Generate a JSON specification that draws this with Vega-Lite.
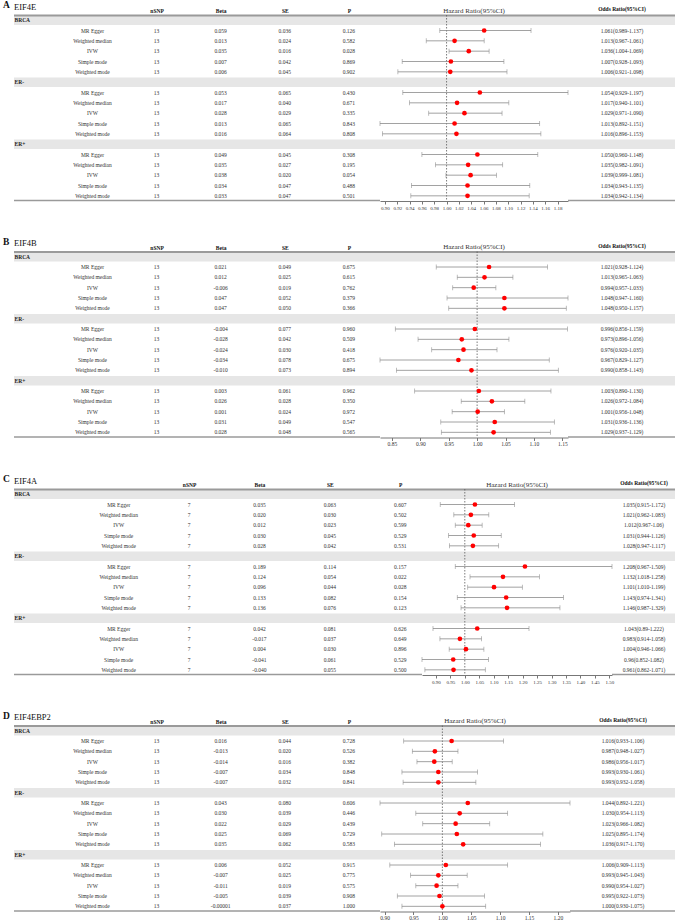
{
  "$schema": "https://vega.github.io/schema/vega-lite/v6.json",
  "background": "white",
  "padding": {"left": 3, "right": 0, "top": 0, "bottom": 0},
  "config": {"view": {"stroke": null}, "font": "Liberation Serif"},
  "spacing": 26.5,
  "datasets": {
    "groups": [
      {"key": "BRCA", "Group": "BRCA"},
      {"key": "ER-", "Group": "ER-"},
      {"key": "ER+", "Group": "ER+"}
    ],
    "eif4e": [
      {"key": "BRCA:MR Egger", "Method": "MR Egger", "nSNP": "13", "Beta": "0.059", "SE": "0.036", "P": "0.126", "OR": 1.061, "lo": 0.989, "hi": 1.137, "CI": "1.061(0.989-1.137)"},
      {"key": "BRCA:Weighted median", "Method": "Weighted median", "nSNP": "13", "Beta": "0.013", "SE": "0.024", "P": "0.582", "OR": 1.013, "lo": 0.967, "hi": 1.061, "CI": "1.013(0.967-1.061)"},
      {"key": "BRCA:IVW", "Method": "IVW", "nSNP": "13", "Beta": "0.035", "SE": "0.016", "P": "0.028", "OR": 1.036, "lo": 1.004, "hi": 1.069, "CI": "1.036(1.004-1.069)"},
      {"key": "BRCA:Simple mode", "Method": "Simple mode", "nSNP": "13", "Beta": "0.007", "SE": "0.042", "P": "0.869", "OR": 1.007, "lo": 0.928, "hi": 1.093, "CI": "1.007(0.928-1.093)"},
      {"key": "BRCA:Weighted mode", "Method": "Weighted mode", "nSNP": "13", "Beta": "0.006", "SE": "0.045", "P": "0.902", "OR": 1.006, "lo": 0.921, "hi": 1.098, "CI": "1.006(0.921-1.098)"},
      {"key": "ER-:MR Egger", "Method": "MR Egger", "nSNP": "13", "Beta": "0.053", "SE": "0.065", "P": "0.430", "OR": 1.054, "lo": 0.929, "hi": 1.197, "CI": "1.054(0.929-1.197)"},
      {"key": "ER-:Weighted median", "Method": "Weighted median", "nSNP": "13", "Beta": "0.017", "SE": "0.040", "P": "0.671", "OR": 1.017, "lo": 0.940, "hi": 1.101, "CI": "1.017(0.940-1.101)"},
      {"key": "ER-:IVW", "Method": "IVW", "nSNP": "13", "Beta": "0.028", "SE": "0.029", "P": "0.335", "OR": 1.029, "lo": 0.971, "hi": 1.090, "CI": "1.029(0.971-1.090)"},
      {"key": "ER-:Simple mode", "Method": "Simple mode", "nSNP": "13", "Beta": "0.013", "SE": "0.065", "P": "0.843", "OR": 1.013, "lo": 0.892, "hi": 1.151, "CI": "1.013(0.892-1.151)"},
      {"key": "ER-:Weighted mode", "Method": "Weighted mode", "nSNP": "13", "Beta": "0.016", "SE": "0.064", "P": "0.808", "OR": 1.016, "lo": 0.896, "hi": 1.153, "CI": "1.016(0.896-1.153)"},
      {"key": "ER+:MR Egger", "Method": "MR Egger", "nSNP": "13", "Beta": "0.049", "SE": "0.045", "P": "0.308", "OR": 1.050, "lo": 0.960, "hi": 1.148, "CI": "1.050(0.960-1.148)"},
      {"key": "ER+:Weighted median", "Method": "Weighted median", "nSNP": "13", "Beta": "0.035", "SE": "0.027", "P": "0.195", "OR": 1.035, "lo": 0.982, "hi": 1.091, "CI": "1.035(0.982-1.091)"},
      {"key": "ER+:IVW", "Method": "IVW", "nSNP": "13", "Beta": "0.038", "SE": "0.020", "P": "0.054", "OR": 1.039, "lo": 0.999, "hi": 1.081, "CI": "1.039(0.999-1.081)"},
      {"key": "ER+:Simple mode", "Method": "Simple mode", "nSNP": "13", "Beta": "0.034", "SE": "0.047", "P": "0.488", "OR": 1.034, "lo": 0.943, "hi": 1.135, "CI": "1.034(0.943-1.135)"},
      {"key": "ER+:Weighted mode", "Method": "Weighted mode", "nSNP": "13", "Beta": "0.033", "SE": "0.047", "P": "0.501", "OR": 1.034, "lo": 0.942, "hi": 1.134, "CI": "1.034(0.942-1.134)"}
    ],
    "eif4b": [
      {"key": "BRCA:MR Egger", "Method": "MR Egger", "nSNP": "13", "Beta": "0.021", "SE": "0.049", "P": "0.675", "OR": 1.021, "lo": 0.928, "hi": 1.124, "CI": "1.021(0.928-1.124)"},
      {"key": "BRCA:Weighted median", "Method": "Weighted median", "nSNP": "13", "Beta": "0.012", "SE": "0.025", "P": "0.615", "OR": 1.013, "lo": 0.965, "hi": 1.063, "CI": "1.013(0.965-1.063)"},
      {"key": "BRCA:IVW", "Method": "IVW", "nSNP": "13", "Beta": "-0.006", "SE": "0.019", "P": "0.762", "OR": 0.994, "lo": 0.957, "hi": 1.033, "CI": "0.994(0.957-1.033)"},
      {"key": "BRCA:Simple mode", "Method": "Simple mode", "nSNP": "13", "Beta": "0.047", "SE": "0.052", "P": "0.379", "OR": 1.048, "lo": 0.947, "hi": 1.160, "CI": "1.048(0.947-1.160)"},
      {"key": "BRCA:Weighted mode", "Method": "Weighted mode", "nSNP": "13", "Beta": "0.047", "SE": "0.050", "P": "0.366", "OR": 1.048, "lo": 0.950, "hi": 1.157, "CI": "1.048(0.950-1.157)"},
      {"key": "ER-:MR Egger", "Method": "MR Egger", "nSNP": "13", "Beta": "-0.004", "SE": "0.077", "P": "0.960", "OR": 0.996, "lo": 0.856, "hi": 1.159, "CI": "0.996(0.856-1.159)"},
      {"key": "ER-:Weighted median", "Method": "Weighted median", "nSNP": "13", "Beta": "-0.028", "SE": "0.042", "P": "0.509", "OR": 0.973, "lo": 0.896, "hi": 1.056, "CI": "0.973(0.896-1.056)"},
      {"key": "ER-:IVW", "Method": "IVW", "nSNP": "13", "Beta": "-0.024", "SE": "0.030", "P": "0.418", "OR": 0.976, "lo": 0.920, "hi": 1.035, "CI": "0.976(0.920-1.035)"},
      {"key": "ER-:Simple mode", "Method": "Simple mode", "nSNP": "13", "Beta": "-0.034", "SE": "0.078", "P": "0.675", "OR": 0.967, "lo": 0.829, "hi": 1.127, "CI": "0.967(0.829-1.127)"},
      {"key": "ER-:Weighted mode", "Method": "Weighted mode", "nSNP": "13", "Beta": "-0.010", "SE": "0.073", "P": "0.894", "OR": 0.990, "lo": 0.858, "hi": 1.143, "CI": "0.990(0.858-1.143)"},
      {"key": "ER+:MR Egger", "Method": "MR Egger", "nSNP": "13", "Beta": "0.003", "SE": "0.061", "P": "0.962", "OR": 1.003, "lo": 0.890, "hi": 1.130, "CI": "1.003(0.890-1.130)"},
      {"key": "ER+:Weighted median", "Method": "Weighted median", "nSNP": "13", "Beta": "0.026", "SE": "0.028", "P": "0.350", "OR": 1.026, "lo": 0.972, "hi": 1.084, "CI": "1.026(0.972-1.084)"},
      {"key": "ER+:IVW", "Method": "IVW", "nSNP": "13", "Beta": "0.001", "SE": "0.024", "P": "0.972", "OR": 1.001, "lo": 0.956, "hi": 1.048, "CI": "1.001(0.956-1.048)"},
      {"key": "ER+:Simple mode", "Method": "Simple mode", "nSNP": "13", "Beta": "0.031", "SE": "0.049", "P": "0.547", "OR": 1.031, "lo": 0.936, "hi": 1.136, "CI": "1.031(0.936-1.136)"},
      {"key": "ER+:Weighted mode", "Method": "Weighted mode", "nSNP": "13", "Beta": "0.028", "SE": "0.048", "P": "0.565", "OR": 1.029, "lo": 0.937, "hi": 1.129, "CI": "1.029(0.937-1.129)"}
    ],
    "eif4a": [
      {"key": "BRCA:MR Egger", "Method": "MR Egger", "nSNP": "7", "Beta": "0.035", "SE": "0.063", "P": "0.607", "OR": 1.035, "lo": 0.915, "hi": 1.172, "CI": "1.035(0.915-1.172)"},
      {"key": "BRCA:Weighted median", "Method": "Weighted median", "nSNP": "7", "Beta": "0.020", "SE": "0.030", "P": "0.502", "OR": 1.021, "lo": 0.962, "hi": 1.083, "CI": "1.021(0.962-1.083)"},
      {"key": "BRCA:IVW", "Method": "IVW", "nSNP": "7", "Beta": "0.012", "SE": "0.023", "P": "0.599", "OR": 1.012, "lo": 0.967, "hi": 1.06, "CI": "1.012(0.967-1.06)"},
      {"key": "BRCA:Simple mode", "Method": "Simple mode", "nSNP": "7", "Beta": "0.030", "SE": "0.045", "P": "0.529", "OR": 1.031, "lo": 0.944, "hi": 1.126, "CI": "1.031(0.944-1.126)"},
      {"key": "BRCA:Weighted mode", "Method": "Weighted mode", "nSNP": "7", "Beta": "0.028", "SE": "0.042", "P": "0.531", "OR": 1.028, "lo": 0.947, "hi": 1.117, "CI": "1.028(0.947-1.117)"},
      {"key": "ER-:MR Egger", "Method": "MR Egger", "nSNP": "7", "Beta": "0.189", "SE": "0.114", "P": "0.157", "OR": 1.208, "lo": 0.967, "hi": 1.509, "CI": "1.208(0.967-1.509)"},
      {"key": "ER-:Weighted median", "Method": "Weighted median", "nSNP": "7", "Beta": "0.124", "SE": "0.054", "P": "0.022", "OR": 1.132, "lo": 1.018, "hi": 1.258, "CI": "1.132(1.018-1.258)"},
      {"key": "ER-:IVW", "Method": "IVW", "nSNP": "7", "Beta": "0.096", "SE": "0.044", "P": "0.028", "OR": 1.101, "lo": 1.010, "hi": 1.199, "CI": "1.101(1.010-1.199)"},
      {"key": "ER-:Simple mode", "Method": "Simple mode", "nSNP": "7", "Beta": "0.133", "SE": "0.082", "P": "0.154", "OR": 1.143, "lo": 0.974, "hi": 1.341, "CI": "1.143(0.974-1.341)"},
      {"key": "ER-:Weighted mode", "Method": "Weighted mode", "nSNP": "7", "Beta": "0.136", "SE": "0.076", "P": "0.123", "OR": 1.146, "lo": 0.987, "hi": 1.329, "CI": "1.146(0.987-1.329)"},
      {"key": "ER+:MR Egger", "Method": "MR Egger", "nSNP": "7", "Beta": "0.042", "SE": "0.081", "P": "0.626", "OR": 1.043, "lo": 0.89, "hi": 1.222, "CI": "1.043(0.89-1.222)"},
      {"key": "ER+:Weighted median", "Method": "Weighted median", "nSNP": "7", "Beta": "-0.017", "SE": "0.037", "P": "0.649", "OR": 0.983, "lo": 0.914, "hi": 1.058, "CI": "0.983(0.914-1.058)"},
      {"key": "ER+:IVW", "Method": "IVW", "nSNP": "7", "Beta": "0.004", "SE": "0.030", "P": "0.896", "OR": 1.004, "lo": 0.946, "hi": 1.066, "CI": "1.004(0.946-1.066)"},
      {"key": "ER+:Simple mode", "Method": "Simple mode", "nSNP": "7", "Beta": "-0.041", "SE": "0.061", "P": "0.529", "OR": 0.96, "lo": 0.852, "hi": 1.082, "CI": "0.96(0.852-1.082)"},
      {"key": "ER+:Weighted mode", "Method": "Weighted mode", "nSNP": "7", "Beta": "-0.040", "SE": "0.055", "P": "0.500", "OR": 0.961, "lo": 0.862, "hi": 1.071, "CI": "0.961(0.862-1.071)"}
    ],
    "eif4ebp2": [
      {"key": "BRCA:MR Egger", "Method": "MR Egger", "nSNP": "13", "Beta": "0.016", "SE": "0.044", "P": "0.728", "OR": 1.016, "lo": 0.933, "hi": 1.106, "CI": "1.016(0.933-1.106)"},
      {"key": "BRCA:Weighted median", "Method": "Weighted median", "nSNP": "13", "Beta": "-0.013", "SE": "0.020", "P": "0.526", "OR": 0.987, "lo": 0.948, "hi": 1.027, "CI": "0.987(0.948-1.027)"},
      {"key": "BRCA:IVW", "Method": "IVW", "nSNP": "13", "Beta": "-0.014", "SE": "0.016", "P": "0.382", "OR": 0.986, "lo": 0.956, "hi": 1.017, "CI": "0.986(0.956-1.017)"},
      {"key": "BRCA:Simple mode", "Method": "Simple mode", "nSNP": "13", "Beta": "-0.007", "SE": "0.034", "P": "0.848", "OR": 0.993, "lo": 0.930, "hi": 1.061, "CI": "0.993(0.930-1.061)"},
      {"key": "BRCA:Weighted mode", "Method": "Weighted mode", "nSNP": "13", "Beta": "-0.007", "SE": "0.032", "P": "0.841", "OR": 0.993, "lo": 0.932, "hi": 1.058, "CI": "0.993(0.932-1.058)"},
      {"key": "ER-:MR Egger", "Method": "MR Egger", "nSNP": "13", "Beta": "0.043", "SE": "0.080", "P": "0.606", "OR": 1.044, "lo": 0.892, "hi": 1.221, "CI": "1.044(0.892-1.221)"},
      {"key": "ER-:Weighted median", "Method": "Weighted median", "nSNP": "13", "Beta": "0.030", "SE": "0.039", "P": "0.446", "OR": 1.030, "lo": 0.954, "hi": 1.113, "CI": "1.030(0.954-1.113)"},
      {"key": "ER-:IVW", "Method": "IVW", "nSNP": "13", "Beta": "0.022", "SE": "0.029", "P": "0.439", "OR": 1.023, "lo": 0.966, "hi": 1.082, "CI": "1.023(0.966-1.082)"},
      {"key": "ER-:Simple mode", "Method": "Simple mode", "nSNP": "13", "Beta": "0.025", "SE": "0.069", "P": "0.729", "OR": 1.025, "lo": 0.895, "hi": 1.174, "CI": "1.025(0.895-1.174)"},
      {"key": "ER-:Weighted mode", "Method": "Weighted mode", "nSNP": "13", "Beta": "0.035", "SE": "0.062", "P": "0.583", "OR": 1.036, "lo": 0.917, "hi": 1.170, "CI": "1.036(0.917-1.170)"},
      {"key": "ER+:MR Egger", "Method": "MR Egger", "nSNP": "13", "Beta": "0.006", "SE": "0.052", "P": "0.915", "OR": 1.006, "lo": 0.909, "hi": 1.113, "CI": "1.006(0.909-1.113)"},
      {"key": "ER+:Weighted median", "Method": "Weighted median", "nSNP": "13", "Beta": "-0.007", "SE": "0.025", "P": "0.775", "OR": 0.993, "lo": 0.945, "hi": 1.043, "CI": "0.993(0.945-1.043)"},
      {"key": "ER+:IVW", "Method": "IVW", "nSNP": "13", "Beta": "-0.011", "SE": "0.019", "P": "0.575", "OR": 0.990, "lo": 0.954, "hi": 1.027, "CI": "0.990(0.954-1.027)"},
      {"key": "ER+:Simple mode", "Method": "Simple mode", "nSNP": "13", "Beta": "-0.005", "SE": "0.039", "P": "0.908", "OR": 0.995, "lo": 0.922, "hi": 1.073, "CI": "0.995(0.922-1.073)"},
      {"key": "ER+:Weighted mode", "Method": "Weighted mode", "nSNP": "13", "Beta": "-0.00001", "SE": "0.037", "P": "1.000", "OR": 1.000, "lo": 0.930, "hi": 1.075, "CI": "1.000(0.930-1.075)"}
    ]
  },
  "vconcat": [
    {
      "title": {"text": "A", "anchor": "start", "dx": -10, "dy": 7, "fontSize": 9.5, "fontWeight": "bold", "font": "Liberation Serif", "color": "#111", "offset": 0},
      "spacing": 0,
      "bounds": "flush",
      "hconcat": [
        {
          "width": 366, "height": 186,
          "title": {"text": "EIF4E", "anchor": "start", "frame": "group", "fontSize": 8.5, "fontWeight": "normal", "font": "Liberation Serif", "color": "#111", "offset": -2.5},
          "layer": [
            {"data": {"name": "groups"}, "mark": {"type": "rect", "color": "#e6e6e6"}, "encoding": {"y": {"field": "key", "type": "nominal", "scale": {"type": "band", "paddingInner": 0.08, "paddingOuter": 0.04, "domain": ["BRCA","BRCA:MR Egger","BRCA:Weighted median","BRCA:IVW","BRCA:Simple mode","BRCA:Weighted mode","ER-","ER-:MR Egger","ER-:Weighted median","ER-:IVW","ER-:Simple mode","ER-:Weighted mode","ER+","ER+:MR Egger","ER+:Weighted median","ER+:IVW","ER+:Simple mode","ER+:Weighted mode"]}, "axis": {"orient": "left", "title": null, "domain": false, "ticks": false, "tickSize": 0, "grid": false, "labelPadding": 0, "labelAlign": "left", "labelBaseline": "middle", "labelFontSize": 5.5, "labelFont": "Liberation Serif", "labelFontWeight": "bold", "labelColor": "#222", "labelOverlap": false, "labelBound": false, "labelFlush": false, "zindex": 2, "labelExpr": "indexof(datum.value, ':') < 0 ? datum.value : ''"}}}},
            {"data": {"name": "groups"}, "transform": [{"filter": "datum.key == 'BRCA'"}], "mark": {"type": "rule", "color": "#9a9a9a", "strokeWidth": 2}, "encoding": {"y": {"field": "key", "type": "nominal", "bandPosition": 0, "axis": {"orient": "left", "title": null, "domain": false, "ticks": false, "tickSize": 0, "grid": false, "labelPadding": 0, "labelAlign": "left", "labelBaseline": "middle", "labelFontSize": 5.5, "labelFont": "Liberation Serif", "labelFontWeight": "bold", "labelColor": "#222", "labelOverlap": false, "labelBound": false, "labelFlush": false, "zindex": 2, "labelExpr": "indexof(datum.value, ':') < 0 ? datum.value : ''"}}}},
            {"data": {"name": "eif4e"}, "transform": [{"filter": "datum.key == 'ER+:Weighted mode'"}], "mark": {"type": "rule", "color": "#9a9a9a", "strokeWidth": 1.5}, "encoding": {"y": {"field": "key", "type": "nominal", "bandPosition": 1, "axis": {"orient": "left", "title": null, "domain": false, "ticks": false, "tickSize": 0, "grid": false, "labelPadding": 0, "labelAlign": "left", "labelBaseline": "middle", "labelFontSize": 5.5, "labelFont": "Liberation Serif", "labelFontWeight": "bold", "labelColor": "#222", "labelOverlap": false, "labelBound": false, "labelFlush": false, "zindex": 2, "labelExpr": "indexof(datum.value, ':') < 0 ? datum.value : ''"}}}},
            {"data": {"name": "eif4e"}, "transform": [{"fold": ["Method", "nSNP", "Beta", "SE", "P"], "as": ["col", "val"]}], "mark": {"type": "text", "fontSize": 5.5, "font": "Liberation Serif", "color": "#333"}, "encoding": {"y": {"field": "key", "type": "nominal", "axis": {"orient": "left", "title": null, "domain": false, "ticks": false, "tickSize": 0, "grid": false, "labelPadding": 0, "labelAlign": "left", "labelBaseline": "middle", "labelFontSize": 5.5, "labelFont": "Liberation Serif", "labelFontWeight": "bold", "labelColor": "#222", "labelOverlap": false, "labelBound": false, "labelFlush": false, "zindex": 2, "labelExpr": "indexof(datum.value, ':') < 0 ? datum.value : ''"}}, "x": {"field": "col", "type": "nominal", "scale": {"type": "point", "domain": ["Method", "nSNP", "Beta", "SE", "P"], "padding": 0.855, "align": 0.716}, "axis": {"orient": "top", "title": null, "domain": false, "ticks": false, "tickSize": 0, "grid": false, "labelPadding": 1.5, "labelAngle": 0, "labelFontSize": 5.5, "labelFont": "Liberation Serif", "labelFontWeight": "bold", "labelColor": "#111", "labelExpr": "datum.value == 'Method' ? '' : datum.value"}}, "text": {"field": "val", "type": "nominal"}}}
          ]
        },
        {
          "width": 188, "height": 186,
          "title": {"text": "Hazard Ratio(95%CI)", "fontSize": 7, "fontWeight": "normal", "font": "Liberation Serif", "color": "#333", "offset": 0.5},
          "layer": [
            {"data": {"name": "groups"}, "mark": {"type": "rect", "color": "#e6e6e6"}, "encoding": {"y": {"field": "key", "type": "nominal", "axis": null, "scale": {"type": "band", "paddingInner": 0.08, "paddingOuter": 0.04, "domain": ["BRCA","BRCA:MR Egger","BRCA:Weighted median","BRCA:IVW","BRCA:Simple mode","BRCA:Weighted mode","ER-","ER-:MR Egger","ER-:Weighted median","ER-:IVW","ER-:Simple mode","ER-:Weighted mode","ER+","ER+:MR Egger","ER+:Weighted median","ER+:IVW","ER+:Simple mode","ER+:Weighted mode"]}}}},
            {"data": {"name": "groups"}, "transform": [{"filter": "datum.key == 'BRCA'"}], "mark": {"type": "rule", "color": "#9a9a9a", "strokeWidth": 2}, "encoding": {"y": {"field": "key", "type": "nominal", "axis": null, "bandPosition": 0}}},
            {"data": {"values": [{"HR": 1}]}, "mark": {"type": "rule", "color": "#5a5a5a", "strokeDash": [1.5, 1.5], "strokeWidth": 0.8}, "encoding": {"x": {"field": "HR", "type": "quantitative", "scale": {"domain": [0.892, 1.197], "nice": false, "zero": false}, "axis": {"orient": "bottom", "title": null, "grid": false, "values": [0.9, 0.92, 0.94, 0.96, 0.98, 1, 1.02, 1.04, 1.06, 1.08, 1.1, 1.12, 1.14, 1.16, 1.18], "format": ".2f", "tickSize": 3, "labelPadding": 1, "labelFontSize": 5, "labelFont": "Liberation Serif", "labelColor": "#333", "domainColor": "#777", "tickColor": "#777", "labelOverlap": false, "labelFlush": false, "labelBound": false}}}},
            {"data": {"name": "eif4e"}, "mark": {"type": "rule", "color": "#8a8a8a", "strokeWidth": 0.8}, "encoding": {"y": {"field": "key", "type": "nominal", "axis": null}, "x": {"field": "lo", "type": "quantitative", "scale": {"domain": [0.892, 1.197], "nice": false, "zero": false}, "axis": {"orient": "bottom", "title": null, "grid": false, "values": [0.9, 0.92, 0.94, 0.96, 0.98, 1, 1.02, 1.04, 1.06, 1.08, 1.1, 1.12, 1.14, 1.16, 1.18], "format": ".2f", "tickSize": 3, "labelPadding": 1, "labelFontSize": 5, "labelFont": "Liberation Serif", "labelColor": "#333", "domainColor": "#777", "tickColor": "#777", "labelOverlap": false, "labelFlush": false, "labelBound": false}}, "x2": {"field": "hi"}}},
            {"data": {"name": "eif4e"}, "mark": {"type": "tick", "color": "#8a8a8a", "thickness": 0.8, "size": 5}, "encoding": {"y": {"field": "key", "type": "nominal", "axis": null}, "x": {"field": "lo", "type": "quantitative", "scale": {"domain": [0.892, 1.197], "nice": false, "zero": false}, "axis": {"orient": "bottom", "title": null, "grid": false, "values": [0.9, 0.92, 0.94, 0.96, 0.98, 1, 1.02, 1.04, 1.06, 1.08, 1.1, 1.12, 1.14, 1.16, 1.18], "format": ".2f", "tickSize": 3, "labelPadding": 1, "labelFontSize": 5, "labelFont": "Liberation Serif", "labelColor": "#333", "domainColor": "#777", "tickColor": "#777", "labelOverlap": false, "labelFlush": false, "labelBound": false}}}},
            {"data": {"name": "eif4e"}, "mark": {"type": "tick", "color": "#8a8a8a", "thickness": 0.8, "size": 5}, "encoding": {"y": {"field": "key", "type": "nominal", "axis": null}, "x": {"field": "hi", "type": "quantitative", "scale": {"domain": [0.892, 1.197], "nice": false, "zero": false}, "axis": {"orient": "bottom", "title": null, "grid": false, "values": [0.9, 0.92, 0.94, 0.96, 0.98, 1, 1.02, 1.04, 1.06, 1.08, 1.1, 1.12, 1.14, 1.16, 1.18], "format": ".2f", "tickSize": 3, "labelPadding": 1, "labelFontSize": 5, "labelFont": "Liberation Serif", "labelColor": "#333", "domainColor": "#777", "tickColor": "#777", "labelOverlap": false, "labelFlush": false, "labelBound": false}}}},
            {"data": {"name": "eif4e"}, "mark": {"type": "point", "filled": true, "color": "#ff0000", "opacity": 1, "size": 22}, "encoding": {"y": {"field": "key", "type": "nominal", "axis": null}, "x": {"field": "OR", "type": "quantitative", "scale": {"domain": [0.892, 1.197], "nice": false, "zero": false}, "axis": {"orient": "bottom", "title": null, "grid": false, "values": [0.9, 0.92, 0.94, 0.96, 0.98, 1, 1.02, 1.04, 1.06, 1.08, 1.1, 1.12, 1.14, 1.16, 1.18], "format": ".2f", "tickSize": 3, "labelPadding": 1, "labelFontSize": 5, "labelFont": "Liberation Serif", "labelColor": "#333", "domainColor": "#777", "tickColor": "#777", "labelOverlap": false, "labelFlush": false, "labelBound": false}}}}
          ]
        },
        {
          "width": 108, "height": 186,
          "title": {"text": "Odds Ratio(95%CI)", "fontSize": 5.5, "fontWeight": "bold", "font": "Liberation Serif", "color": "#111", "offset": 1.5},
          "layer": [
            {"data": {"name": "groups"}, "mark": {"type": "rect", "color": "#e6e6e6"}, "encoding": {"y": {"field": "key", "type": "nominal", "axis": null, "scale": {"type": "band", "paddingInner": 0.08, "paddingOuter": 0.04, "domain": ["BRCA","BRCA:MR Egger","BRCA:Weighted median","BRCA:IVW","BRCA:Simple mode","BRCA:Weighted mode","ER-","ER-:MR Egger","ER-:Weighted median","ER-:IVW","ER-:Simple mode","ER-:Weighted mode","ER+","ER+:MR Egger","ER+:Weighted median","ER+:IVW","ER+:Simple mode","ER+:Weighted mode"]}}}},
            {"data": {"name": "groups"}, "transform": [{"filter": "datum.key == 'BRCA'"}], "mark": {"type": "rule", "color": "#9a9a9a", "strokeWidth": 2}, "encoding": {"y": {"field": "key", "type": "nominal", "axis": null, "bandPosition": 0}}},
            {"data": {"name": "eif4e"}, "transform": [{"filter": "datum.key == 'ER+:Weighted mode'"}], "mark": {"type": "rule", "color": "#9a9a9a", "strokeWidth": 1.5}, "encoding": {"y": {"field": "key", "type": "nominal", "axis": null, "bandPosition": 1}}},
            {"data": {"name": "eif4e"}, "mark": {"type": "text", "fontSize": 5.5, "font": "Liberation Serif", "color": "#333"}, "encoding": {"y": {"field": "key", "type": "nominal", "axis": null}, "text": {"field": "CI", "type": "nominal"}}}
          ]
        }
      ]
    },
    {
      "title": {"text": "B", "anchor": "start", "dx": -10, "dy": 7, "fontSize": 9.5, "fontWeight": "bold", "font": "Liberation Serif", "color": "#111", "offset": 0},
      "spacing": 0,
      "bounds": "flush",
      "hconcat": [
        {
          "width": 366, "height": 186,
          "title": {"text": "EIF4B", "anchor": "start", "frame": "group", "fontSize": 8.5, "fontWeight": "normal", "font": "Liberation Serif", "color": "#111", "offset": -2.5},
          "layer": [
            {"data": {"name": "groups"}, "mark": {"type": "rect", "color": "#e6e6e6"}, "encoding": {"y": {"field": "key", "type": "nominal", "scale": {"type": "band", "paddingInner": 0.08, "paddingOuter": 0.04, "domain": ["BRCA","BRCA:MR Egger","BRCA:Weighted median","BRCA:IVW","BRCA:Simple mode","BRCA:Weighted mode","ER-","ER-:MR Egger","ER-:Weighted median","ER-:IVW","ER-:Simple mode","ER-:Weighted mode","ER+","ER+:MR Egger","ER+:Weighted median","ER+:IVW","ER+:Simple mode","ER+:Weighted mode"]}, "axis": {"orient": "left", "title": null, "domain": false, "ticks": false, "tickSize": 0, "grid": false, "labelPadding": 0, "labelAlign": "left", "labelBaseline": "middle", "labelFontSize": 5.5, "labelFont": "Liberation Serif", "labelFontWeight": "bold", "labelColor": "#222", "labelOverlap": false, "labelBound": false, "labelFlush": false, "zindex": 2, "labelExpr": "indexof(datum.value, ':') < 0 ? datum.value : ''"}}}},
            {"data": {"name": "groups"}, "transform": [{"filter": "datum.key == 'BRCA'"}], "mark": {"type": "rule", "color": "#9a9a9a", "strokeWidth": 2}, "encoding": {"y": {"field": "key", "type": "nominal", "bandPosition": 0, "axis": {"orient": "left", "title": null, "domain": false, "ticks": false, "tickSize": 0, "grid": false, "labelPadding": 0, "labelAlign": "left", "labelBaseline": "middle", "labelFontSize": 5.5, "labelFont": "Liberation Serif", "labelFontWeight": "bold", "labelColor": "#222", "labelOverlap": false, "labelBound": false, "labelFlush": false, "zindex": 2, "labelExpr": "indexof(datum.value, ':') < 0 ? datum.value : ''"}}}},
            {"data": {"name": "eif4b"}, "transform": [{"filter": "datum.key == 'ER+:Weighted mode'"}], "mark": {"type": "rule", "color": "#9a9a9a", "strokeWidth": 1.5}, "encoding": {"y": {"field": "key", "type": "nominal", "bandPosition": 1, "axis": {"orient": "left", "title": null, "domain": false, "ticks": false, "tickSize": 0, "grid": false, "labelPadding": 0, "labelAlign": "left", "labelBaseline": "middle", "labelFontSize": 5.5, "labelFont": "Liberation Serif", "labelFontWeight": "bold", "labelColor": "#222", "labelOverlap": false, "labelBound": false, "labelFlush": false, "zindex": 2, "labelExpr": "indexof(datum.value, ':') < 0 ? datum.value : ''"}}}},
            {"data": {"name": "eif4b"}, "transform": [{"fold": ["Method", "nSNP", "Beta", "SE", "P"], "as": ["col", "val"]}], "mark": {"type": "text", "fontSize": 5.5, "font": "Liberation Serif", "color": "#333"}, "encoding": {"y": {"field": "key", "type": "nominal", "axis": {"orient": "left", "title": null, "domain": false, "ticks": false, "tickSize": 0, "grid": false, "labelPadding": 0, "labelAlign": "left", "labelBaseline": "middle", "labelFontSize": 5.5, "labelFont": "Liberation Serif", "labelFontWeight": "bold", "labelColor": "#222", "labelOverlap": false, "labelBound": false, "labelFlush": false, "zindex": 2, "labelExpr": "indexof(datum.value, ':') < 0 ? datum.value : ''"}}, "x": {"field": "col", "type": "nominal", "scale": {"type": "point", "domain": ["Method", "nSNP", "Beta", "SE", "P"], "padding": 0.855, "align": 0.716}, "axis": {"orient": "top", "title": null, "domain": false, "ticks": false, "tickSize": 0, "grid": false, "labelPadding": 1.5, "labelAngle": 0, "labelFontSize": 5.5, "labelFont": "Liberation Serif", "labelFontWeight": "bold", "labelColor": "#111", "labelExpr": "datum.value == 'Method' ? '' : datum.value"}}, "text": {"field": "val", "type": "nominal"}}}
          ]
        },
        {
          "width": 188, "height": 186,
          "title": {"text": "Hazard Ratio(95%CI)", "fontSize": 7, "fontWeight": "normal", "font": "Liberation Serif", "color": "#333", "offset": 0.5},
          "layer": [
            {"data": {"name": "groups"}, "mark": {"type": "rect", "color": "#e6e6e6"}, "encoding": {"y": {"field": "key", "type": "nominal", "axis": null, "scale": {"type": "band", "paddingInner": 0.08, "paddingOuter": 0.04, "domain": ["BRCA","BRCA:MR Egger","BRCA:Weighted median","BRCA:IVW","BRCA:Simple mode","BRCA:Weighted mode","ER-","ER-:MR Egger","ER-:Weighted median","ER-:IVW","ER-:Simple mode","ER-:Weighted mode","ER+","ER+:MR Egger","ER+:Weighted median","ER+:IVW","ER+:Simple mode","ER+:Weighted mode"]}}}},
            {"data": {"name": "groups"}, "transform": [{"filter": "datum.key == 'BRCA'"}], "mark": {"type": "rule", "color": "#9a9a9a", "strokeWidth": 2}, "encoding": {"y": {"field": "key", "type": "nominal", "axis": null, "bandPosition": 0}}},
            {"data": {"values": [{"HR": 1}]}, "mark": {"type": "rule", "color": "#5a5a5a", "strokeDash": [1.5, 1.5], "strokeWidth": 0.8}, "encoding": {"x": {"field": "HR", "type": "quantitative", "scale": {"domain": [0.829, 1.16], "nice": false, "zero": false}, "axis": {"orient": "bottom", "title": null, "grid": false, "values": [0.85, 0.9, 0.95, 1, 1.05, 1.1, 1.15], "format": ".2f", "tickSize": 3, "labelPadding": 1, "labelFontSize": 5.5, "labelFont": "Liberation Serif", "labelColor": "#333", "domainColor": "#777", "tickColor": "#777", "labelOverlap": false, "labelFlush": false, "labelBound": false}}}},
            {"data": {"name": "eif4b"}, "mark": {"type": "rule", "color": "#8a8a8a", "strokeWidth": 0.8}, "encoding": {"y": {"field": "key", "type": "nominal", "axis": null}, "x": {"field": "lo", "type": "quantitative", "scale": {"domain": [0.829, 1.16], "nice": false, "zero": false}, "axis": {"orient": "bottom", "title": null, "grid": false, "values": [0.85, 0.9, 0.95, 1, 1.05, 1.1, 1.15], "format": ".2f", "tickSize": 3, "labelPadding": 1, "labelFontSize": 5.5, "labelFont": "Liberation Serif", "labelColor": "#333", "domainColor": "#777", "tickColor": "#777", "labelOverlap": false, "labelFlush": false, "labelBound": false}}, "x2": {"field": "hi"}}},
            {"data": {"name": "eif4b"}, "mark": {"type": "tick", "color": "#8a8a8a", "thickness": 0.8, "size": 5}, "encoding": {"y": {"field": "key", "type": "nominal", "axis": null}, "x": {"field": "lo", "type": "quantitative", "scale": {"domain": [0.829, 1.16], "nice": false, "zero": false}, "axis": {"orient": "bottom", "title": null, "grid": false, "values": [0.85, 0.9, 0.95, 1, 1.05, 1.1, 1.15], "format": ".2f", "tickSize": 3, "labelPadding": 1, "labelFontSize": 5.5, "labelFont": "Liberation Serif", "labelColor": "#333", "domainColor": "#777", "tickColor": "#777", "labelOverlap": false, "labelFlush": false, "labelBound": false}}}},
            {"data": {"name": "eif4b"}, "mark": {"type": "tick", "color": "#8a8a8a", "thickness": 0.8, "size": 5}, "encoding": {"y": {"field": "key", "type": "nominal", "axis": null}, "x": {"field": "hi", "type": "quantitative", "scale": {"domain": [0.829, 1.16], "nice": false, "zero": false}, "axis": {"orient": "bottom", "title": null, "grid": false, "values": [0.85, 0.9, 0.95, 1, 1.05, 1.1, 1.15], "format": ".2f", "tickSize": 3, "labelPadding": 1, "labelFontSize": 5.5, "labelFont": "Liberation Serif", "labelColor": "#333", "domainColor": "#777", "tickColor": "#777", "labelOverlap": false, "labelFlush": false, "labelBound": false}}}},
            {"data": {"name": "eif4b"}, "mark": {"type": "point", "filled": true, "color": "#ff0000", "opacity": 1, "size": 22}, "encoding": {"y": {"field": "key", "type": "nominal", "axis": null}, "x": {"field": "OR", "type": "quantitative", "scale": {"domain": [0.829, 1.16], "nice": false, "zero": false}, "axis": {"orient": "bottom", "title": null, "grid": false, "values": [0.85, 0.9, 0.95, 1, 1.05, 1.1, 1.15], "format": ".2f", "tickSize": 3, "labelPadding": 1, "labelFontSize": 5.5, "labelFont": "Liberation Serif", "labelColor": "#333", "domainColor": "#777", "tickColor": "#777", "labelOverlap": false, "labelFlush": false, "labelBound": false}}}}
          ]
        },
        {
          "width": 108, "height": 186,
          "title": {"text": "Odds Ratio(95%CI)", "fontSize": 5.5, "fontWeight": "bold", "font": "Liberation Serif", "color": "#111", "offset": 1.5},
          "layer": [
            {"data": {"name": "groups"}, "mark": {"type": "rect", "color": "#e6e6e6"}, "encoding": {"y": {"field": "key", "type": "nominal", "axis": null, "scale": {"type": "band", "paddingInner": 0.08, "paddingOuter": 0.04, "domain": ["BRCA","BRCA:MR Egger","BRCA:Weighted median","BRCA:IVW","BRCA:Simple mode","BRCA:Weighted mode","ER-","ER-:MR Egger","ER-:Weighted median","ER-:IVW","ER-:Simple mode","ER-:Weighted mode","ER+","ER+:MR Egger","ER+:Weighted median","ER+:IVW","ER+:Simple mode","ER+:Weighted mode"]}}}},
            {"data": {"name": "groups"}, "transform": [{"filter": "datum.key == 'BRCA'"}], "mark": {"type": "rule", "color": "#9a9a9a", "strokeWidth": 2}, "encoding": {"y": {"field": "key", "type": "nominal", "axis": null, "bandPosition": 0}}},
            {"data": {"name": "eif4b"}, "transform": [{"filter": "datum.key == 'ER+:Weighted mode'"}], "mark": {"type": "rule", "color": "#9a9a9a", "strokeWidth": 1.5}, "encoding": {"y": {"field": "key", "type": "nominal", "axis": null, "bandPosition": 1}}},
            {"data": {"name": "eif4b"}, "mark": {"type": "text", "fontSize": 5.5, "font": "Liberation Serif", "color": "#333"}, "encoding": {"y": {"field": "key", "type": "nominal", "axis": null}, "text": {"field": "CI", "type": "nominal"}}}
          ]
        }
      ]
    },
    {
      "title": {"text": "C", "anchor": "start", "dx": -10, "dy": 7, "fontSize": 9.5, "fontWeight": "bold", "font": "Liberation Serif", "color": "#111", "offset": 0},
      "spacing": 0,
      "bounds": "flush",
      "hconcat": [
        {
          "width": 408, "height": 186,
          "title": {"text": "EIF4A", "anchor": "start", "frame": "group", "fontSize": 8.5, "fontWeight": "normal", "font": "Liberation Serif", "color": "#111", "offset": -2.5},
          "layer": [
            {"data": {"name": "groups"}, "mark": {"type": "rect", "color": "#e6e6e6"}, "encoding": {"y": {"field": "key", "type": "nominal", "scale": {"type": "band", "paddingInner": 0.08, "paddingOuter": 0.04, "domain": ["BRCA","BRCA:MR Egger","BRCA:Weighted median","BRCA:IVW","BRCA:Simple mode","BRCA:Weighted mode","ER-","ER-:MR Egger","ER-:Weighted median","ER-:IVW","ER-:Simple mode","ER-:Weighted mode","ER+","ER+:MR Egger","ER+:Weighted median","ER+:IVW","ER+:Simple mode","ER+:Weighted mode"]}, "axis": {"orient": "left", "title": null, "domain": false, "ticks": false, "tickSize": 0, "grid": false, "labelPadding": 0, "labelAlign": "left", "labelBaseline": "middle", "labelFontSize": 5.5, "labelFont": "Liberation Serif", "labelFontWeight": "bold", "labelColor": "#222", "labelOverlap": false, "labelBound": false, "labelFlush": false, "zindex": 2, "labelExpr": "indexof(datum.value, ':') < 0 ? datum.value : ''"}}}},
            {"data": {"name": "groups"}, "transform": [{"filter": "datum.key == 'BRCA'"}], "mark": {"type": "rule", "color": "#9a9a9a", "strokeWidth": 2}, "encoding": {"y": {"field": "key", "type": "nominal", "bandPosition": 0, "axis": {"orient": "left", "title": null, "domain": false, "ticks": false, "tickSize": 0, "grid": false, "labelPadding": 0, "labelAlign": "left", "labelBaseline": "middle", "labelFontSize": 5.5, "labelFont": "Liberation Serif", "labelFontWeight": "bold", "labelColor": "#222", "labelOverlap": false, "labelBound": false, "labelFlush": false, "zindex": 2, "labelExpr": "indexof(datum.value, ':') < 0 ? datum.value : ''"}}}},
            {"data": {"name": "eif4a"}, "transform": [{"filter": "datum.key == 'ER+:Weighted mode'"}], "mark": {"type": "rule", "color": "#9a9a9a", "strokeWidth": 1.5}, "encoding": {"y": {"field": "key", "type": "nominal", "bandPosition": 1, "axis": {"orient": "left", "title": null, "domain": false, "ticks": false, "tickSize": 0, "grid": false, "labelPadding": 0, "labelAlign": "left", "labelBaseline": "middle", "labelFontSize": 5.5, "labelFont": "Liberation Serif", "labelFontWeight": "bold", "labelColor": "#222", "labelOverlap": false, "labelBound": false, "labelFlush": false, "zindex": 2, "labelExpr": "indexof(datum.value, ':') < 0 ? datum.value : ''"}}}},
            {"data": {"name": "eif4a"}, "transform": [{"fold": ["Method", "nSNP", "Beta", "SE", "P"], "as": ["col", "val"]}], "mark": {"type": "text", "fontSize": 5.5, "font": "Liberation Serif", "color": "#333"}, "encoding": {"y": {"field": "key", "type": "nominal", "axis": {"orient": "left", "title": null, "domain": false, "ticks": false, "tickSize": 0, "grid": false, "labelPadding": 0, "labelAlign": "left", "labelBaseline": "middle", "labelFontSize": 5.5, "labelFont": "Liberation Serif", "labelFontWeight": "bold", "labelColor": "#222", "labelOverlap": false, "labelBound": false, "labelFlush": false, "zindex": 2, "labelExpr": "indexof(datum.value, ':') < 0 ? datum.value : ''"}}, "x": {"field": "col", "type": "nominal", "scale": {"type": "point", "domain": ["Method", "nSNP", "Beta", "SE", "P"], "padding": 0.898, "align": 0.828}, "axis": {"orient": "top", "title": null, "domain": false, "ticks": false, "tickSize": 0, "grid": false, "labelPadding": 1.5, "labelAngle": 0, "labelFontSize": 5.5, "labelFont": "Liberation Serif", "labelFontWeight": "bold", "labelColor": "#111", "labelExpr": "datum.value == 'Method' ? '' : datum.value"}}, "text": {"field": "val", "type": "nominal"}}}
          ]
        },
        {
          "width": 190, "height": 186,
          "title": {"text": "Hazard Ratio(95%CI)", "fontSize": 7, "fontWeight": "normal", "font": "Liberation Serif", "color": "#333", "offset": 0.5},
          "layer": [
            {"data": {"name": "groups"}, "mark": {"type": "rect", "color": "#e6e6e6"}, "encoding": {"y": {"field": "key", "type": "nominal", "axis": null, "scale": {"type": "band", "paddingInner": 0.08, "paddingOuter": 0.04, "domain": ["BRCA","BRCA:MR Egger","BRCA:Weighted median","BRCA:IVW","BRCA:Simple mode","BRCA:Weighted mode","ER-","ER-:MR Egger","ER-:Weighted median","ER-:IVW","ER-:Simple mode","ER-:Weighted mode","ER+","ER+:MR Egger","ER+:Weighted median","ER+:IVW","ER+:Simple mode","ER+:Weighted mode"]}}}},
            {"data": {"name": "groups"}, "transform": [{"filter": "datum.key == 'BRCA'"}], "mark": {"type": "rule", "color": "#9a9a9a", "strokeWidth": 2}, "encoding": {"y": {"field": "key", "type": "nominal", "axis": null, "bandPosition": 0}}},
            {"data": {"values": [{"HR": 1}]}, "mark": {"type": "rule", "color": "#5a5a5a", "strokeDash": [1.5, 1.5], "strokeWidth": 0.8}, "encoding": {"x": {"field": "HR", "type": "quantitative", "scale": {"domain": [0.852, 1.509], "nice": false, "zero": false}, "axis": {"orient": "bottom", "title": null, "grid": false, "values": [0.9, 0.95, 1, 1.05, 1.1, 1.15, 1.2, 1.25, 1.3, 1.35, 1.4, 1.45, 1.5], "format": ".2f", "tickSize": 3, "labelPadding": 1, "labelFontSize": 5, "labelFont": "Liberation Serif", "labelColor": "#333", "domainColor": "#777", "tickColor": "#777", "labelOverlap": false, "labelFlush": false, "labelBound": false}}}},
            {"data": {"name": "eif4a"}, "mark": {"type": "rule", "color": "#8a8a8a", "strokeWidth": 0.8}, "encoding": {"y": {"field": "key", "type": "nominal", "axis": null}, "x": {"field": "lo", "type": "quantitative", "scale": {"domain": [0.852, 1.509], "nice": false, "zero": false}, "axis": {"orient": "bottom", "title": null, "grid": false, "values": [0.9, 0.95, 1, 1.05, 1.1, 1.15, 1.2, 1.25, 1.3, 1.35, 1.4, 1.45, 1.5], "format": ".2f", "tickSize": 3, "labelPadding": 1, "labelFontSize": 5, "labelFont": "Liberation Serif", "labelColor": "#333", "domainColor": "#777", "tickColor": "#777", "labelOverlap": false, "labelFlush": false, "labelBound": false}}, "x2": {"field": "hi"}}},
            {"data": {"name": "eif4a"}, "mark": {"type": "tick", "color": "#8a8a8a", "thickness": 0.8, "size": 5}, "encoding": {"y": {"field": "key", "type": "nominal", "axis": null}, "x": {"field": "lo", "type": "quantitative", "scale": {"domain": [0.852, 1.509], "nice": false, "zero": false}, "axis": {"orient": "bottom", "title": null, "grid": false, "values": [0.9, 0.95, 1, 1.05, 1.1, 1.15, 1.2, 1.25, 1.3, 1.35, 1.4, 1.45, 1.5], "format": ".2f", "tickSize": 3, "labelPadding": 1, "labelFontSize": 5, "labelFont": "Liberation Serif", "labelColor": "#333", "domainColor": "#777", "tickColor": "#777", "labelOverlap": false, "labelFlush": false, "labelBound": false}}}},
            {"data": {"name": "eif4a"}, "mark": {"type": "tick", "color": "#8a8a8a", "thickness": 0.8, "size": 5}, "encoding": {"y": {"field": "key", "type": "nominal", "axis": null}, "x": {"field": "hi", "type": "quantitative", "scale": {"domain": [0.852, 1.509], "nice": false, "zero": false}, "axis": {"orient": "bottom", "title": null, "grid": false, "values": [0.9, 0.95, 1, 1.05, 1.1, 1.15, 1.2, 1.25, 1.3, 1.35, 1.4, 1.45, 1.5], "format": ".2f", "tickSize": 3, "labelPadding": 1, "labelFontSize": 5, "labelFont": "Liberation Serif", "labelColor": "#333", "domainColor": "#777", "tickColor": "#777", "labelOverlap": false, "labelFlush": false, "labelBound": false}}}},
            {"data": {"name": "eif4a"}, "mark": {"type": "point", "filled": true, "color": "#ff0000", "opacity": 1, "size": 22}, "encoding": {"y": {"field": "key", "type": "nominal", "axis": null}, "x": {"field": "OR", "type": "quantitative", "scale": {"domain": [0.852, 1.509], "nice": false, "zero": false}, "axis": {"orient": "bottom", "title": null, "grid": false, "values": [0.9, 0.95, 1, 1.05, 1.1, 1.15, 1.2, 1.25, 1.3, 1.35, 1.4, 1.45, 1.5], "format": ".2f", "tickSize": 3, "labelPadding": 1, "labelFontSize": 5, "labelFont": "Liberation Serif", "labelColor": "#333", "domainColor": "#777", "tickColor": "#777", "labelOverlap": false, "labelFlush": false, "labelBound": false}}}}
          ]
        },
        {
          "width": 64, "height": 186,
          "title": {"text": "Odds Ratio(95%CI)", "fontSize": 5.5, "fontWeight": "bold", "font": "Liberation Serif", "color": "#111", "offset": 1.5},
          "layer": [
            {"data": {"name": "groups"}, "mark": {"type": "rect", "color": "#e6e6e6"}, "encoding": {"y": {"field": "key", "type": "nominal", "axis": null, "scale": {"type": "band", "paddingInner": 0.08, "paddingOuter": 0.04, "domain": ["BRCA","BRCA:MR Egger","BRCA:Weighted median","BRCA:IVW","BRCA:Simple mode","BRCA:Weighted mode","ER-","ER-:MR Egger","ER-:Weighted median","ER-:IVW","ER-:Simple mode","ER-:Weighted mode","ER+","ER+:MR Egger","ER+:Weighted median","ER+:IVW","ER+:Simple mode","ER+:Weighted mode"]}}}},
            {"data": {"name": "groups"}, "transform": [{"filter": "datum.key == 'BRCA'"}], "mark": {"type": "rule", "color": "#9a9a9a", "strokeWidth": 2}, "encoding": {"y": {"field": "key", "type": "nominal", "axis": null, "bandPosition": 0}}},
            {"data": {"name": "eif4a"}, "transform": [{"filter": "datum.key == 'ER+:Weighted mode'"}], "mark": {"type": "rule", "color": "#9a9a9a", "strokeWidth": 1.5}, "encoding": {"y": {"field": "key", "type": "nominal", "axis": null, "bandPosition": 1}}},
            {"data": {"name": "eif4a"}, "mark": {"type": "text", "fontSize": 5.5, "font": "Liberation Serif", "color": "#333"}, "encoding": {"y": {"field": "key", "type": "nominal", "axis": null}, "text": {"field": "CI", "type": "nominal"}}}
          ]
        }
      ]
    },
    {
      "title": {"text": "D", "anchor": "start", "dx": -10, "dy": 7, "fontSize": 9.5, "fontWeight": "bold", "font": "Liberation Serif", "color": "#111", "offset": 0},
      "spacing": 0,
      "bounds": "flush",
      "hconcat": [
        {
          "width": 366, "height": 186,
          "title": {"text": "EIF4EBP2", "anchor": "start", "frame": "group", "fontSize": 8.5, "fontWeight": "normal", "font": "Liberation Serif", "color": "#111", "offset": -2.5},
          "layer": [
            {"data": {"name": "groups"}, "mark": {"type": "rect", "color": "#e6e6e6"}, "encoding": {"y": {"field": "key", "type": "nominal", "scale": {"type": "band", "paddingInner": 0.08, "paddingOuter": 0.04, "domain": ["BRCA","BRCA:MR Egger","BRCA:Weighted median","BRCA:IVW","BRCA:Simple mode","BRCA:Weighted mode","ER-","ER-:MR Egger","ER-:Weighted median","ER-:IVW","ER-:Simple mode","ER-:Weighted mode","ER+","ER+:MR Egger","ER+:Weighted median","ER+:IVW","ER+:Simple mode","ER+:Weighted mode"]}, "axis": {"orient": "left", "title": null, "domain": false, "ticks": false, "tickSize": 0, "grid": false, "labelPadding": 0, "labelAlign": "left", "labelBaseline": "middle", "labelFontSize": 5.5, "labelFont": "Liberation Serif", "labelFontWeight": "bold", "labelColor": "#222", "labelOverlap": false, "labelBound": false, "labelFlush": false, "zindex": 2, "labelExpr": "indexof(datum.value, ':') < 0 ? datum.value : ''"}}}},
            {"data": {"name": "groups"}, "transform": [{"filter": "datum.key == 'BRCA'"}], "mark": {"type": "rule", "color": "#9a9a9a", "strokeWidth": 2}, "encoding": {"y": {"field": "key", "type": "nominal", "bandPosition": 0, "axis": {"orient": "left", "title": null, "domain": false, "ticks": false, "tickSize": 0, "grid": false, "labelPadding": 0, "labelAlign": "left", "labelBaseline": "middle", "labelFontSize": 5.5, "labelFont": "Liberation Serif", "labelFontWeight": "bold", "labelColor": "#222", "labelOverlap": false, "labelBound": false, "labelFlush": false, "zindex": 2, "labelExpr": "indexof(datum.value, ':') < 0 ? datum.value : ''"}}}},
            {"data": {"name": "eif4ebp2"}, "transform": [{"filter": "datum.key == 'ER+:Weighted mode'"}], "mark": {"type": "rule", "color": "#9a9a9a", "strokeWidth": 1.5}, "encoding": {"y": {"field": "key", "type": "nominal", "bandPosition": 1, "axis": {"orient": "left", "title": null, "domain": false, "ticks": false, "tickSize": 0, "grid": false, "labelPadding": 0, "labelAlign": "left", "labelBaseline": "middle", "labelFontSize": 5.5, "labelFont": "Liberation Serif", "labelFontWeight": "bold", "labelColor": "#222", "labelOverlap": false, "labelBound": false, "labelFlush": false, "zindex": 2, "labelExpr": "indexof(datum.value, ':') < 0 ? datum.value : ''"}}}},
            {"data": {"name": "eif4ebp2"}, "transform": [{"fold": ["Method", "nSNP", "Beta", "SE", "P"], "as": ["col", "val"]}], "mark": {"type": "text", "fontSize": 5.5, "font": "Liberation Serif", "color": "#333"}, "encoding": {"y": {"field": "key", "type": "nominal", "axis": {"orient": "left", "title": null, "domain": false, "ticks": false, "tickSize": 0, "grid": false, "labelPadding": 0, "labelAlign": "left", "labelBaseline": "middle", "labelFontSize": 5.5, "labelFont": "Liberation Serif", "labelFontWeight": "bold", "labelColor": "#222", "labelOverlap": false, "labelBound": false, "labelFlush": false, "zindex": 2, "labelExpr": "indexof(datum.value, ':') < 0 ? datum.value : ''"}}, "x": {"field": "col", "type": "nominal", "scale": {"type": "point", "domain": ["Method", "nSNP", "Beta", "SE", "P"], "padding": 0.855, "align": 0.716}, "axis": {"orient": "top", "title": null, "domain": false, "ticks": false, "tickSize": 0, "grid": false, "labelPadding": 1.5, "labelAngle": 0, "labelFontSize": 5.5, "labelFont": "Liberation Serif", "labelFontWeight": "bold", "labelColor": "#111", "labelExpr": "datum.value == 'Method' ? '' : datum.value"}}, "text": {"field": "val", "type": "nominal"}}}
          ]
        },
        {
          "width": 190, "height": 186,
          "title": {"text": "Hazard Ratio(95%CI)", "fontSize": 7, "fontWeight": "normal", "font": "Liberation Serif", "color": "#333", "offset": 0.5},
          "layer": [
            {"data": {"name": "groups"}, "mark": {"type": "rect", "color": "#e6e6e6"}, "encoding": {"y": {"field": "key", "type": "nominal", "axis": null, "scale": {"type": "band", "paddingInner": 0.08, "paddingOuter": 0.04, "domain": ["BRCA","BRCA:MR Egger","BRCA:Weighted median","BRCA:IVW","BRCA:Simple mode","BRCA:Weighted mode","ER-","ER-:MR Egger","ER-:Weighted median","ER-:IVW","ER-:Simple mode","ER-:Weighted mode","ER+","ER+:MR Egger","ER+:Weighted median","ER+:IVW","ER+:Simple mode","ER+:Weighted mode"]}}}},
            {"data": {"name": "groups"}, "transform": [{"filter": "datum.key == 'BRCA'"}], "mark": {"type": "rule", "color": "#9a9a9a", "strokeWidth": 2}, "encoding": {"y": {"field": "key", "type": "nominal", "axis": null, "bandPosition": 0}}},
            {"data": {"values": [{"HR": 1}]}, "mark": {"type": "rule", "color": "#5a5a5a", "strokeDash": [1.5, 1.5], "strokeWidth": 0.8}, "encoding": {"x": {"field": "HR", "type": "quantitative", "scale": {"domain": [0.892, 1.221], "nice": false, "zero": false}, "axis": {"orient": "bottom", "title": null, "grid": false, "values": [0.9, 0.95, 1, 1.05, 1.1, 1.15, 1.2], "format": ".2f", "tickSize": 3, "labelPadding": 1, "labelFontSize": 5.5, "labelFont": "Liberation Serif", "labelColor": "#333", "domainColor": "#777", "tickColor": "#777", "labelOverlap": false, "labelFlush": false, "labelBound": false}}}},
            {"data": {"name": "eif4ebp2"}, "mark": {"type": "rule", "color": "#8a8a8a", "strokeWidth": 0.8}, "encoding": {"y": {"field": "key", "type": "nominal", "axis": null}, "x": {"field": "lo", "type": "quantitative", "scale": {"domain": [0.892, 1.221], "nice": false, "zero": false}, "axis": {"orient": "bottom", "title": null, "grid": false, "values": [0.9, 0.95, 1, 1.05, 1.1, 1.15, 1.2], "format": ".2f", "tickSize": 3, "labelPadding": 1, "labelFontSize": 5.5, "labelFont": "Liberation Serif", "labelColor": "#333", "domainColor": "#777", "tickColor": "#777", "labelOverlap": false, "labelFlush": false, "labelBound": false}}, "x2": {"field": "hi"}}},
            {"data": {"name": "eif4ebp2"}, "mark": {"type": "tick", "color": "#8a8a8a", "thickness": 0.8, "size": 5}, "encoding": {"y": {"field": "key", "type": "nominal", "axis": null}, "x": {"field": "lo", "type": "quantitative", "scale": {"domain": [0.892, 1.221], "nice": false, "zero": false}, "axis": {"orient": "bottom", "title": null, "grid": false, "values": [0.9, 0.95, 1, 1.05, 1.1, 1.15, 1.2], "format": ".2f", "tickSize": 3, "labelPadding": 1, "labelFontSize": 5.5, "labelFont": "Liberation Serif", "labelColor": "#333", "domainColor": "#777", "tickColor": "#777", "labelOverlap": false, "labelFlush": false, "labelBound": false}}}},
            {"data": {"name": "eif4ebp2"}, "mark": {"type": "tick", "color": "#8a8a8a", "thickness": 0.8, "size": 5}, "encoding": {"y": {"field": "key", "type": "nominal", "axis": null}, "x": {"field": "hi", "type": "quantitative", "scale": {"domain": [0.892, 1.221], "nice": false, "zero": false}, "axis": {"orient": "bottom", "title": null, "grid": false, "values": [0.9, 0.95, 1, 1.05, 1.1, 1.15, 1.2], "format": ".2f", "tickSize": 3, "labelPadding": 1, "labelFontSize": 5.5, "labelFont": "Liberation Serif", "labelColor": "#333", "domainColor": "#777", "tickColor": "#777", "labelOverlap": false, "labelFlush": false, "labelBound": false}}}},
            {"data": {"name": "eif4ebp2"}, "mark": {"type": "point", "filled": true, "color": "#ff0000", "opacity": 1, "size": 22}, "encoding": {"y": {"field": "key", "type": "nominal", "axis": null}, "x": {"field": "OR", "type": "quantitative", "scale": {"domain": [0.892, 1.221], "nice": false, "zero": false}, "axis": {"orient": "bottom", "title": null, "grid": false, "values": [0.9, 0.95, 1, 1.05, 1.1, 1.15, 1.2], "format": ".2f", "tickSize": 3, "labelPadding": 1, "labelFontSize": 5.5, "labelFont": "Liberation Serif", "labelColor": "#333", "domainColor": "#777", "tickColor": "#777", "labelOverlap": false, "labelFlush": false, "labelBound": false}}}}
          ]
        },
        {
          "width": 106, "height": 186,
          "title": {"text": "Odds Ratio(95%CI)", "fontSize": 5.5, "fontWeight": "bold", "font": "Liberation Serif", "color": "#111", "offset": 1.5},
          "layer": [
            {"data": {"name": "groups"}, "mark": {"type": "rect", "color": "#e6e6e6"}, "encoding": {"y": {"field": "key", "type": "nominal", "axis": null, "scale": {"type": "band", "paddingInner": 0.08, "paddingOuter": 0.04, "domain": ["BRCA","BRCA:MR Egger","BRCA:Weighted median","BRCA:IVW","BRCA:Simple mode","BRCA:Weighted mode","ER-","ER-:MR Egger","ER-:Weighted median","ER-:IVW","ER-:Simple mode","ER-:Weighted mode","ER+","ER+:MR Egger","ER+:Weighted median","ER+:IVW","ER+:Simple mode","ER+:Weighted mode"]}}}},
            {"data": {"name": "groups"}, "transform": [{"filter": "datum.key == 'BRCA'"}], "mark": {"type": "rule", "color": "#9a9a9a", "strokeWidth": 2}, "encoding": {"y": {"field": "key", "type": "nominal", "axis": null, "bandPosition": 0}}},
            {"data": {"name": "eif4ebp2"}, "transform": [{"filter": "datum.key == 'ER+:Weighted mode'"}], "mark": {"type": "rule", "color": "#9a9a9a", "strokeWidth": 1.5}, "encoding": {"y": {"field": "key", "type": "nominal", "axis": null, "bandPosition": 1}}},
            {"data": {"name": "eif4ebp2"}, "mark": {"type": "text", "fontSize": 5.5, "font": "Liberation Serif", "color": "#333"}, "encoding": {"y": {"field": "key", "type": "nominal", "axis": null}, "text": {"field": "CI", "type": "nominal"}}}
          ]
        }
      ]
    }
  ]
}
